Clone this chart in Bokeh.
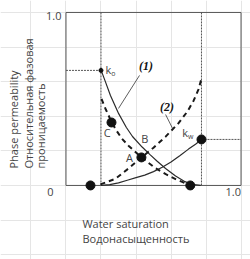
from bokeh.plotting import figure
from bokeh.models import Range1d
from bokeh.core.properties import value
from bokeh.embed import file_html
from bokeh.resources import INLINE
import math

# ---- data (water saturation, relative permeability) ----
swc = 0.2          # connate water saturation (dotted line)
sor_end = 0.774    # end point saturation (dotted line)
kro_max = 0.665    # k_o end point
krw_max = 0.266    # k_w end point

# curve (1): solid
sw_oil1 = [0.201, 0.225, 0.254, 0.301, 0.345, 0.38, 0.435, 0.48, 0.521, 0.569, 0.626, 0.68, 0.72, 0.77]
kro_1 = [0.665, 0.60, 0.52, 0.415, 0.335, 0.283, 0.222, 0.178, 0.14, 0.098, 0.055, 0.022, 0.007, 0.0]
sw_wat1 = [0.2, 0.25, 0.3, 0.35, 0.4, 0.45, 0.5, 0.55, 0.6, 0.65, 0.7, 0.74, 0.774]
krw_1 = [0.0, 0.005, 0.015, 0.03, 0.045, 0.06, 0.08, 0.105, 0.135, 0.172, 0.21, 0.238, 0.266]

# curve (2): dashed
sw_oil2 = [0.203, 0.225, 0.25, 0.283, 0.32, 0.357, 0.431, 0.511, 0.57, 0.626, 0.67, 0.711]
kro_2 = [0.50, 0.445, 0.39, 0.325, 0.27, 0.23, 0.162, 0.10, 0.065, 0.037, 0.018, 0.0]
sw_wat2 = [0.197, 0.283, 0.357, 0.431, 0.5, 0.569, 0.643, 0.694, 0.729, 0.757, 0.774]
krw_2 = [0.006, 0.039, 0.098, 0.162, 0.218, 0.282, 0.36, 0.428, 0.49, 0.555, 0.618]

# marked points
pt_x = [0.26, 0.431, 0.774, 0.14, 0.71]
pt_y = [0.364, 0.162, 0.266, 0.0, 0.0]

# point labels
lab_text = ["A", "B", "C"]
lab_x = [0.363, 0.45, 0.235]
lab_y = [0.16, 0.273, 0.305]

axis_color = "#555555"
curve_color = "#2b2b2b"
text_color = "#444444"
FONT = value("Open Sans")

p = figure(width=250, height=259, output_backend="svg", toolbar_location=None,
           x_axis_location=None, y_axis_location=None, min_border=0,
           x_range=Range1d(-0.374, 1.054), y_range=Range1d(-0.428, 1.069))
p.outline_line_color = None

# frame box
p.quad(left=[0], right=[1], bottom=[0], top=[1], fill_color=None,
       line_color=axis_color, line_width=1)

# dotted guide lines
dot = dict(line_color="#555555", line_width=1, line_dash="2 1")
p.line([swc, swc], [0, 1], **dot)
p.line([0, swc], [kro_max, kro_max], **dot)
p.line([sor_end, sor_end], [0, 1], **dot)
p.line([sor_end, 1], [krw_max, krw_max], **dot)

# curves
p.line(sw_oil1, kro_1, line_color=curve_color, line_width=1.2)
p.line(sw_wat1, krw_1, line_color=curve_color, line_width=1.2)
p.line(sw_oil2, kro_2, line_color="#1a1a1a", line_width=2, line_dash="5 4")
p.line(sw_wat2, krw_2, line_color="#1a1a1a", line_width=2, line_dash="5 4")

# points
p.scatter(pt_x, pt_y, size=9, color="#111111")
p.scatter([swc], [kro_max], size=4, color="#111111")

# point labels
p.text(lab_x, lab_y, text=lab_text, text_font=FONT, text_font_size="11px",
       text_color=text_color, text_align="center", text_baseline="middle")

# k_o / k_w
p.text([0.226], [0.668], text=["k"], text_font=FONT, text_font_size="11px",
       text_color=text_color, text_align="left", text_baseline="middle")
p.text([0.259], [0.648], text=["o"], text_font=FONT, text_font_size="7px",
       text_color=text_color, text_align="left", text_baseline="middle")
p.text([0.664], [0.305], text=["k"], text_font=FONT, text_font_size="11px",
       text_color=text_color, text_align="left", text_baseline="middle")
p.text([0.697], [0.285], text=["w"], text_font=FONT, text_font_size="7px",
       text_color=text_color, text_align="left", text_baseline="middle")

# (1), (2) labels with leaders
p.text([0.457, 0.577], [0.688, 0.451], text=["(1)", "(2)"], text_font=value("Liberation Serif"),
       text_font_size="12px", text_font_style="bold italic", text_color="#111111",
       text_align="center", text_baseline="middle")
p.line([0.30, 0.42], [0.445, 0.636], line_color="#333333", line_width=0.8)
p.line([0.569, 0.609], [0.41, 0.329], line_color="#333333", line_width=0.8)

# tick labels
p.text([-0.026], [0.977], text=["1.0"], text_font=FONT, text_font_size="11px",
       text_color=text_color, text_align="right", text_baseline="middle")
p.text([-0.089], [-0.04], text=["0"], text_font=FONT, text_font_size="11px",
       text_color=text_color, text_align="center", text_baseline="middle")
p.text([1.0], [-0.04], text=["1.0"], text_font=FONT, text_font_size="11px",
       text_color=text_color, text_align="right", text_baseline="middle")

# axis titles
p.text([-0.30, -0.214, -0.146], [0.098, 0.098, 0.098],
       text=["Phase permeability", "Относительная фазовая", "проницаемость"],
       angle=math.pi / 2, text_font=FONT, text_font_size="11px", text_color=text_color,
       text_align="left", text_baseline="middle")
p.text([0.094, 0.094], [-0.22, -0.305], text=["Water saturation", "Водонасыщенность"],
       text_font=FONT, text_font_size="11px", text_color=text_color,
       text_align="left", text_baseline="middle")

open("out.html", "w").write(file_html(p, INLINE))
